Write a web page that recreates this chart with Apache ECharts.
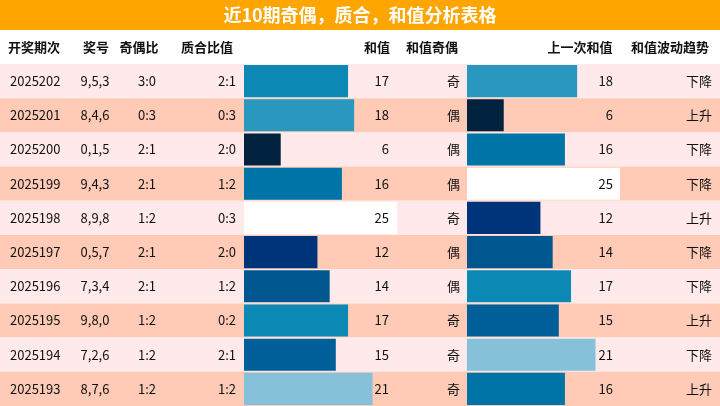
<!DOCTYPE html>
<html><head><meta charset="utf-8">
<script src="https://cdn.jsdelivr.net/npm/echarts@6/dist/echarts.min.js"></script>
<style>html,body{margin:0;padding:0;background:#fff}#c{width:720px;height:406px}</style>
</head><body><div id="c"></div>
<script>
const periods=['2025202','2025201','2025200','2025199','2025198','2025197','2025196','2025195','2025194','2025193'];
const numbers=['9,5,3','8,4,6','0,1,5','9,4,3','8,9,8','0,5,7','7,3,4','9,8,0','7,2,6','8,7,6'];
const oddEven=['3:0','0:3','2:1','2:1','1:2','2:1','2:1','1:2','1:2','1:2'];
const primeComp=['2:1','0:3','2:0','1:2','0:3','2:0','1:2','0:2','2:1','1:2'];
const sums=[17,18,6,16,25,12,14,17,15,21];
const parity=['奇','偶','偶','偶','奇','偶','偶','奇','奇','奇'];
const prevSums=[18,6,16,25,12,14,17,15,21,16];
const trend=['下降','上升','下降','下降','上升','下降','下降','上升','下降','上升'];
const headers=['开奖期次','奖号','奇偶比','质合比值','和值','和值奇偶','上一次和值','和值波动趋势'];

const palette={6:'#00223e',12:'#00347a',14:'#00578f',15:'#005f98',16:'#0074a6',17:'#0c88b4',18:'#2a97bf',21:'#86c1d9',25:'#ffffff'};
const colorFor=v=>palette[v]||'#0a80b0';
const FONT='"Noto Sans CJK SC", sans-serif';
const chart=echarts.init(document.getElementById('c'));
const TOP=64;
// cell columns: [x, align, array]
const cols=[[10,'left',periods],[95,'center',numbers],[147,'center',oddEven],[236,'right',primeComp],
 [389,'right',sums],[460,'right',parity],[613,'right',prevSums],[712,'right',trend]];
const hdr=[[8,'left'],[96,'center'],[139,'center'],[207,'center'],[390,'right'],[432,'center'],[580,'center'],[670,'center']];
const yCat={type:'category',data:periods,inverse:true,show:false};
chart.setOption({
 animation:false,
 grid:[{left:0,right:0,top:TOP,bottom:0},{left:244,width:153,top:TOP,bottom:0},{left:467,width:153,top:TOP,bottom:0}],
 xAxis:[{gridIndex:0,type:'value',min:0,max:720,show:false},
        {gridIndex:1,type:'value',min:0,max:25,show:false},
        {gridIndex:2,type:'value',min:0,max:25,show:false}],
 yAxis:[{...yCat,gridIndex:0,show:true,axisLine:{show:false},axisTick:{show:false},axisLabel:{show:false},
          splitArea:{show:true,areaStyle:{color:['#ffe9ea','#ffcbb6']}}},
        {...yCat,gridIndex:1},{...yCat,gridIndex:2}],
 graphic:[
  {type:'rect',shape:{x:0,y:0,width:720,height:30},style:{fill:'#ffa500'}},
  {type:'text',x:360,y:15,style:{text:'近10期奇偶，质合，和值分析表格',fill:'#fff',font:'bold 18px '+FONT,textAlign:'center',textVerticalAlign:'middle'}},
  ...headers.map((h,i)=>({type:'text',x:hdr[i][0],y:47,style:{text:h,fill:'#111',font:'bold 13px '+FONT,textAlign:hdr[i][1],textVerticalAlign:'middle'}}))
 ],
 series:[
  {type:'bar',xAxisIndex:1,yAxisIndex:1,barCategoryGap:'6%',data:sums.map(v=>({value:v,itemStyle:{color:colorFor(v)}}))},
  {type:'bar',xAxisIndex:2,yAxisIndex:2,barCategoryGap:'6%',data:prevSums.map(v=>({value:v,itemStyle:{color:colorFor(v)}}))},
  {type:'custom',xAxisIndex:0,yAxisIndex:0,z:10,data:periods.map((p,i)=>[0,i]),
   renderItem:(params,api)=>{
     const r=api.value(1);
     return {type:'group',children:cols.map(c=>{
       const pt=api.coord([c[0],r]);
       return {type:'text',x:pt[0],y:pt[1],style:{text:String(c[2][r]),fill:'#111',font:'13px '+FONT,textAlign:c[1],textVerticalAlign:'middle'}};
     })};
   }}
 ]
});
</script></body></html>
